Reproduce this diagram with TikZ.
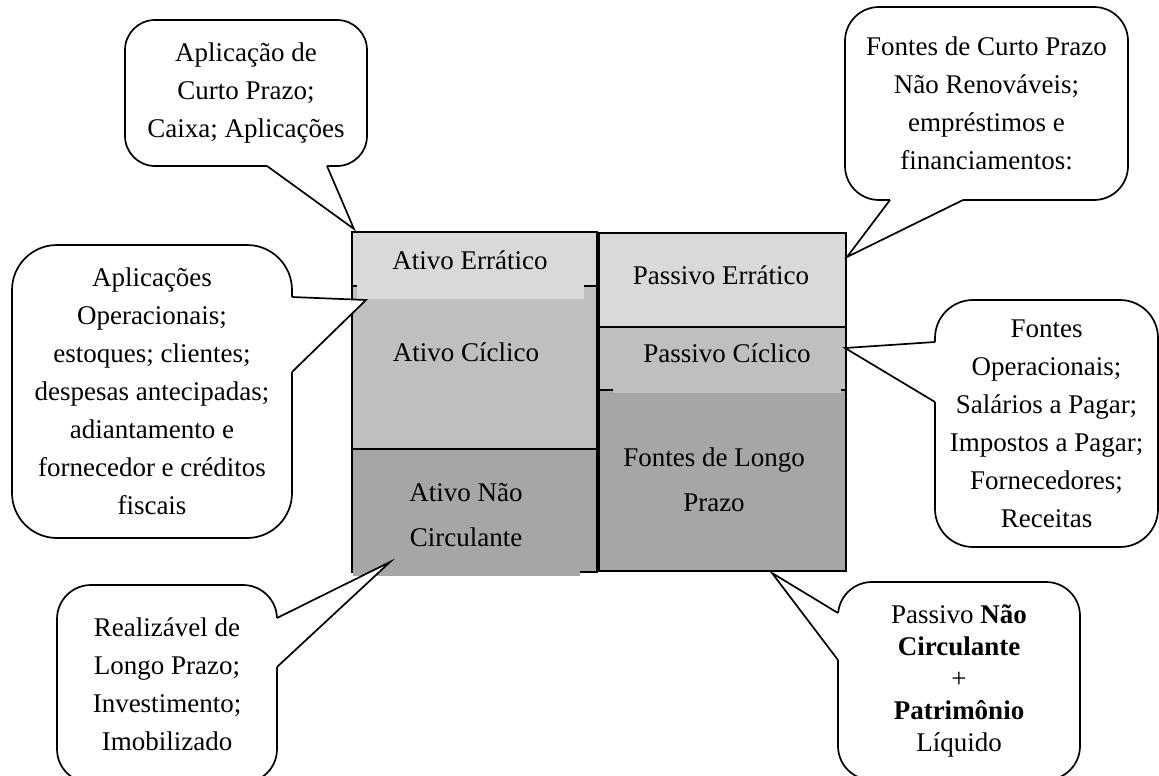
\documentclass[tikz,border=0pt]{standalone}
\usepackage{fontspec}
\setmainfont{Liberation Serif}
\usetikzlibrary{calc}

\definecolor{errgray}{RGB}{217,217,217}
\definecolor{cicgray}{RGB}{191,191,191}
\definecolor{longgray}{RGB}{166,166,166}

% pointer of a callout: base, tip, base, inward shift
\newcommand{\calloutptr}[4]{%
  \fill[white] ($(#1)+(#4)$) -- (#1) -- (#2) -- (#3) -- ($(#3)+(#4)$) -- cycle;
  \draw (#1) -- (#2) -- (#3);}

\begin{document}
\begin{tikzpicture}[x=1pt, y=-1pt, line width=1.7pt, line join=miter,
  blk/.style={draw, inner sep=0pt, anchor=north west},
  txt/.style={font=\fontsize{27}{45}\selectfont, align=center, inner sep=0pt},
  bubble/.style={draw, fill=white, align=center, inner sep=0pt,
    font=\fontsize{27}{38}\selectfont}]
  \useasboundingbox (0,0) rectangle (1159,776);

  % Ativo
  \node[blk, fill=errgray, minimum width=245pt, minimum height=54pt] (ae) at (351,231) {};
  \node[blk, fill=cicgray, minimum width=245pt, minimum height=163pt] (ac) at (351,285) {};
  \node[blk, fill=longgray, minimum width=245pt, minimum height=123pt] (anc) at (351,448) {};
  % Passivo
  \node[blk, fill=errgray, minimum width=247pt, minimum height=94pt] (pe) at (598,232) {};
  \node[blk, fill=cicgray, minimum width=247pt, minimum height=63pt] (pc) at (598,326) {};
  \node[blk, fill=longgray, minimum width=247pt, minimum height=181pt] (flp) at (598,389) {};
  % text boxes lying over the lines
  \fill[errgray] (357,283) rectangle (584,299);
  \fill[cicgray] (613,387) rectangle (841,393);
  \fill[longgray] (353,560) rectangle (580,576);

  \node[txt] (aet) at (470,260) {Ativo Errático};
  \node[txt] (act) at (466,352) {Ativo Cíclico};
  \node[txt] (anct) at (466,515) {Ativo Não\\Circulante};
  \node[txt] (pet) at (721,275) {Passivo Errático};
  \node[txt] (pct) at (727,353) {Passivo Cíclico};
  \node[txt] (flpt) at (714,480) {Fontes de Longo\\Prazo};

  % Callouts
  \node[bubble, minimum width=242pt, minimum height=146pt, rounded corners=30pt] (b1)
    at (246,93) {Aplicação de\\Curto Prazo;\\Caixa; Aplicações};
  \node[bubble, minimum width=283pt, minimum height=193pt, rounded corners=34pt] (b2)
    at (986.5,103.5) {Fontes de Curto Prazo\\Não Renováveis;\\empréstimos e\\financiamentos:};
  \node[bubble, minimum width=280pt, minimum height=293pt, rounded corners=45pt] (b3)
    at (152,391.5) {Aplicações\\Operacionais;\\estoques; clientes;\\despesas antecipadas;\\adiantamento e\\fornecedor e créditos\\fiscais};
  \node[bubble, minimum width=223pt, minimum height=247pt, rounded corners=38pt] (b4)
    at (1046.5,423.5) {Fontes\\Operacionais;\\Salários a Pagar;\\Impostos a Pagar;\\Fornecedores;\\Receitas};
  \node[bubble, minimum width=220pt, minimum height=198pt, rounded corners=34pt] (b5)
    at (167,684) {Realizável de\\Longo Prazo;\\Investimento;\\Imobilizado};
  \node[bubble, minimum width=242pt, minimum height=198pt, rounded corners=34pt,
    font=\fontsize{27}{32}\selectfont] (b6)
    at (959,681) {Passivo \textbf{Não}\\\textbf{Circulante}\\+\\\textbf{Patrimônio}\\Líquido};

  % Pointers
  \coordinate (b1a) at (267,166);  \coordinate (b1t) at (354,229);  \coordinate (b1b) at (327,166);
  \coordinate (b2a) at (890,200);  \coordinate (b2t) at (847,257);  \coordinate (b2b) at (963,200);
  \coordinate (b3a) at (292,297);  \coordinate (b3t) at (366,300);  \coordinate (b3b) at (292,372);
  \coordinate (b4a) at (935,342);  \coordinate (b4t) at (845,348);  \coordinate (b4b) at (935,402);
  \coordinate (b5a) at (277,618);  \coordinate (b5t) at (390,562);  \coordinate (b5b) at (277,667);
  \coordinate (b6a) at (838,613);  \coordinate (b6t) at (772,573);  \coordinate (b6b) at (838,660);
  \calloutptr{b1a}{b1t}{b1b}{0,-2}
  \calloutptr{b2a}{b2t}{b2b}{0,-2}
  \calloutptr{b3a}{b3t}{b3b}{-2,0}
  \calloutptr{b4a}{b4t}{b4b}{2,0}
  \calloutptr{b5a}{b5t}{b5b}{-2,0}
  \calloutptr{b6a}{b6t}{b6b}{2,0}
\end{tikzpicture}
\end{document}
